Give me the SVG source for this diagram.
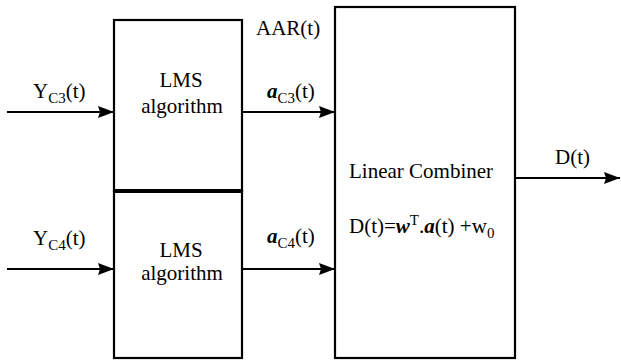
<svg xmlns="http://www.w3.org/2000/svg" width="621" height="360" viewBox="0 0 621 360">
<style>
.box{fill:#fff;stroke:#000;stroke-width:2.2}
.ln{stroke:#000;stroke-width:2.2;fill:none}
.t{font-family:'Liberation Serif','Times New Roman','DejaVu Serif',serif;font-size:21px;fill:#000}
.sub{font-size:15px}
.bi{font-weight:bold;font-style:italic}
</style>
<defs>
<marker id="ah" markerWidth="16" markerHeight="12" refX="16" refY="6" orient="auto" markerUnits="userSpaceOnUse">
<path d="M0,0 L16,6 L0,12 L2,6 Z" fill="#000"/>
</marker>
</defs>
<rect width="621" height="360" fill="#fff"/>
<g id="connectors">
<line class="ln" x1="7" y1="112" x2="114" y2="112" marker-end="url(#ah)"/>
<line class="ln" x1="7" y1="269" x2="114" y2="269" marker-end="url(#ah)"/>
<line class="ln" x1="242" y1="112" x2="335" y2="112" marker-end="url(#ah)"/>
<line class="ln" x1="242" y1="269" x2="335" y2="269" marker-end="url(#ah)"/>
<line class="ln" x1="515" y1="178" x2="620" y2="178" marker-end="url(#ah)"/>
</g>
<g id="lms1">
<rect class="box" x="114" y="20" width="128" height="171"/>
<text class="t" x="181" y="87" text-anchor="middle" font-family="Liberation Serif, serif">LMS</text>
<text class="t" x="182" y="113" text-anchor="middle" font-family="Liberation Serif, serif">algorithm</text>
</g>
<g id="lms2">
<rect class="box" x="114" y="191" width="128" height="167"/>
<text class="t" x="181" y="257" text-anchor="middle" font-family="Liberation Serif, serif">LMS</text>
<text class="t" x="182" y="280" text-anchor="middle" font-family="Liberation Serif, serif">algorithm</text>
</g>
<line x1="114" y1="191" x2="242" y2="191" stroke="#000" stroke-width="4"/>
<g id="combiner">
<rect class="box" x="335" y="7" width="180" height="351"/>
<text class="t" x="349" y="178" font-family="Liberation Serif, serif">Linear Combiner</text>
<text class="t" x="349" y="233" font-family="Liberation Serif, serif">D(t)=<tspan class="bi">w</tspan><tspan class="sub" dy="-8">T</tspan><tspan dy="8">.</tspan><tspan class="bi">a</tspan>(t) +w<tspan class="sub" dy="5">0</tspan></text>
</g>
<g id="labels" font-family="Liberation Serif, serif">
<text class="t" x="33" y="98">Y<tspan class="sub" dy="5">C3</tspan><tspan dy="-5">(t)</tspan></text>
<text class="t" x="33" y="245">Y<tspan class="sub" dy="5">C4</tspan><tspan dy="-5">(t)</tspan></text>
<text class="t" x="256" y="35">AAR(t)</text>
<text class="t" x="267" y="98"><tspan class="bi">a</tspan><tspan class="sub" dy="5">C3</tspan><tspan dy="-5">(t)</tspan></text>
<text class="t" x="267" y="243"><tspan class="bi">a</tspan><tspan class="sub" dy="5">C4</tspan><tspan dy="-5">(t)</tspan></text>
<text class="t" x="555" y="164">D(t)</text>
</g>
</svg>
